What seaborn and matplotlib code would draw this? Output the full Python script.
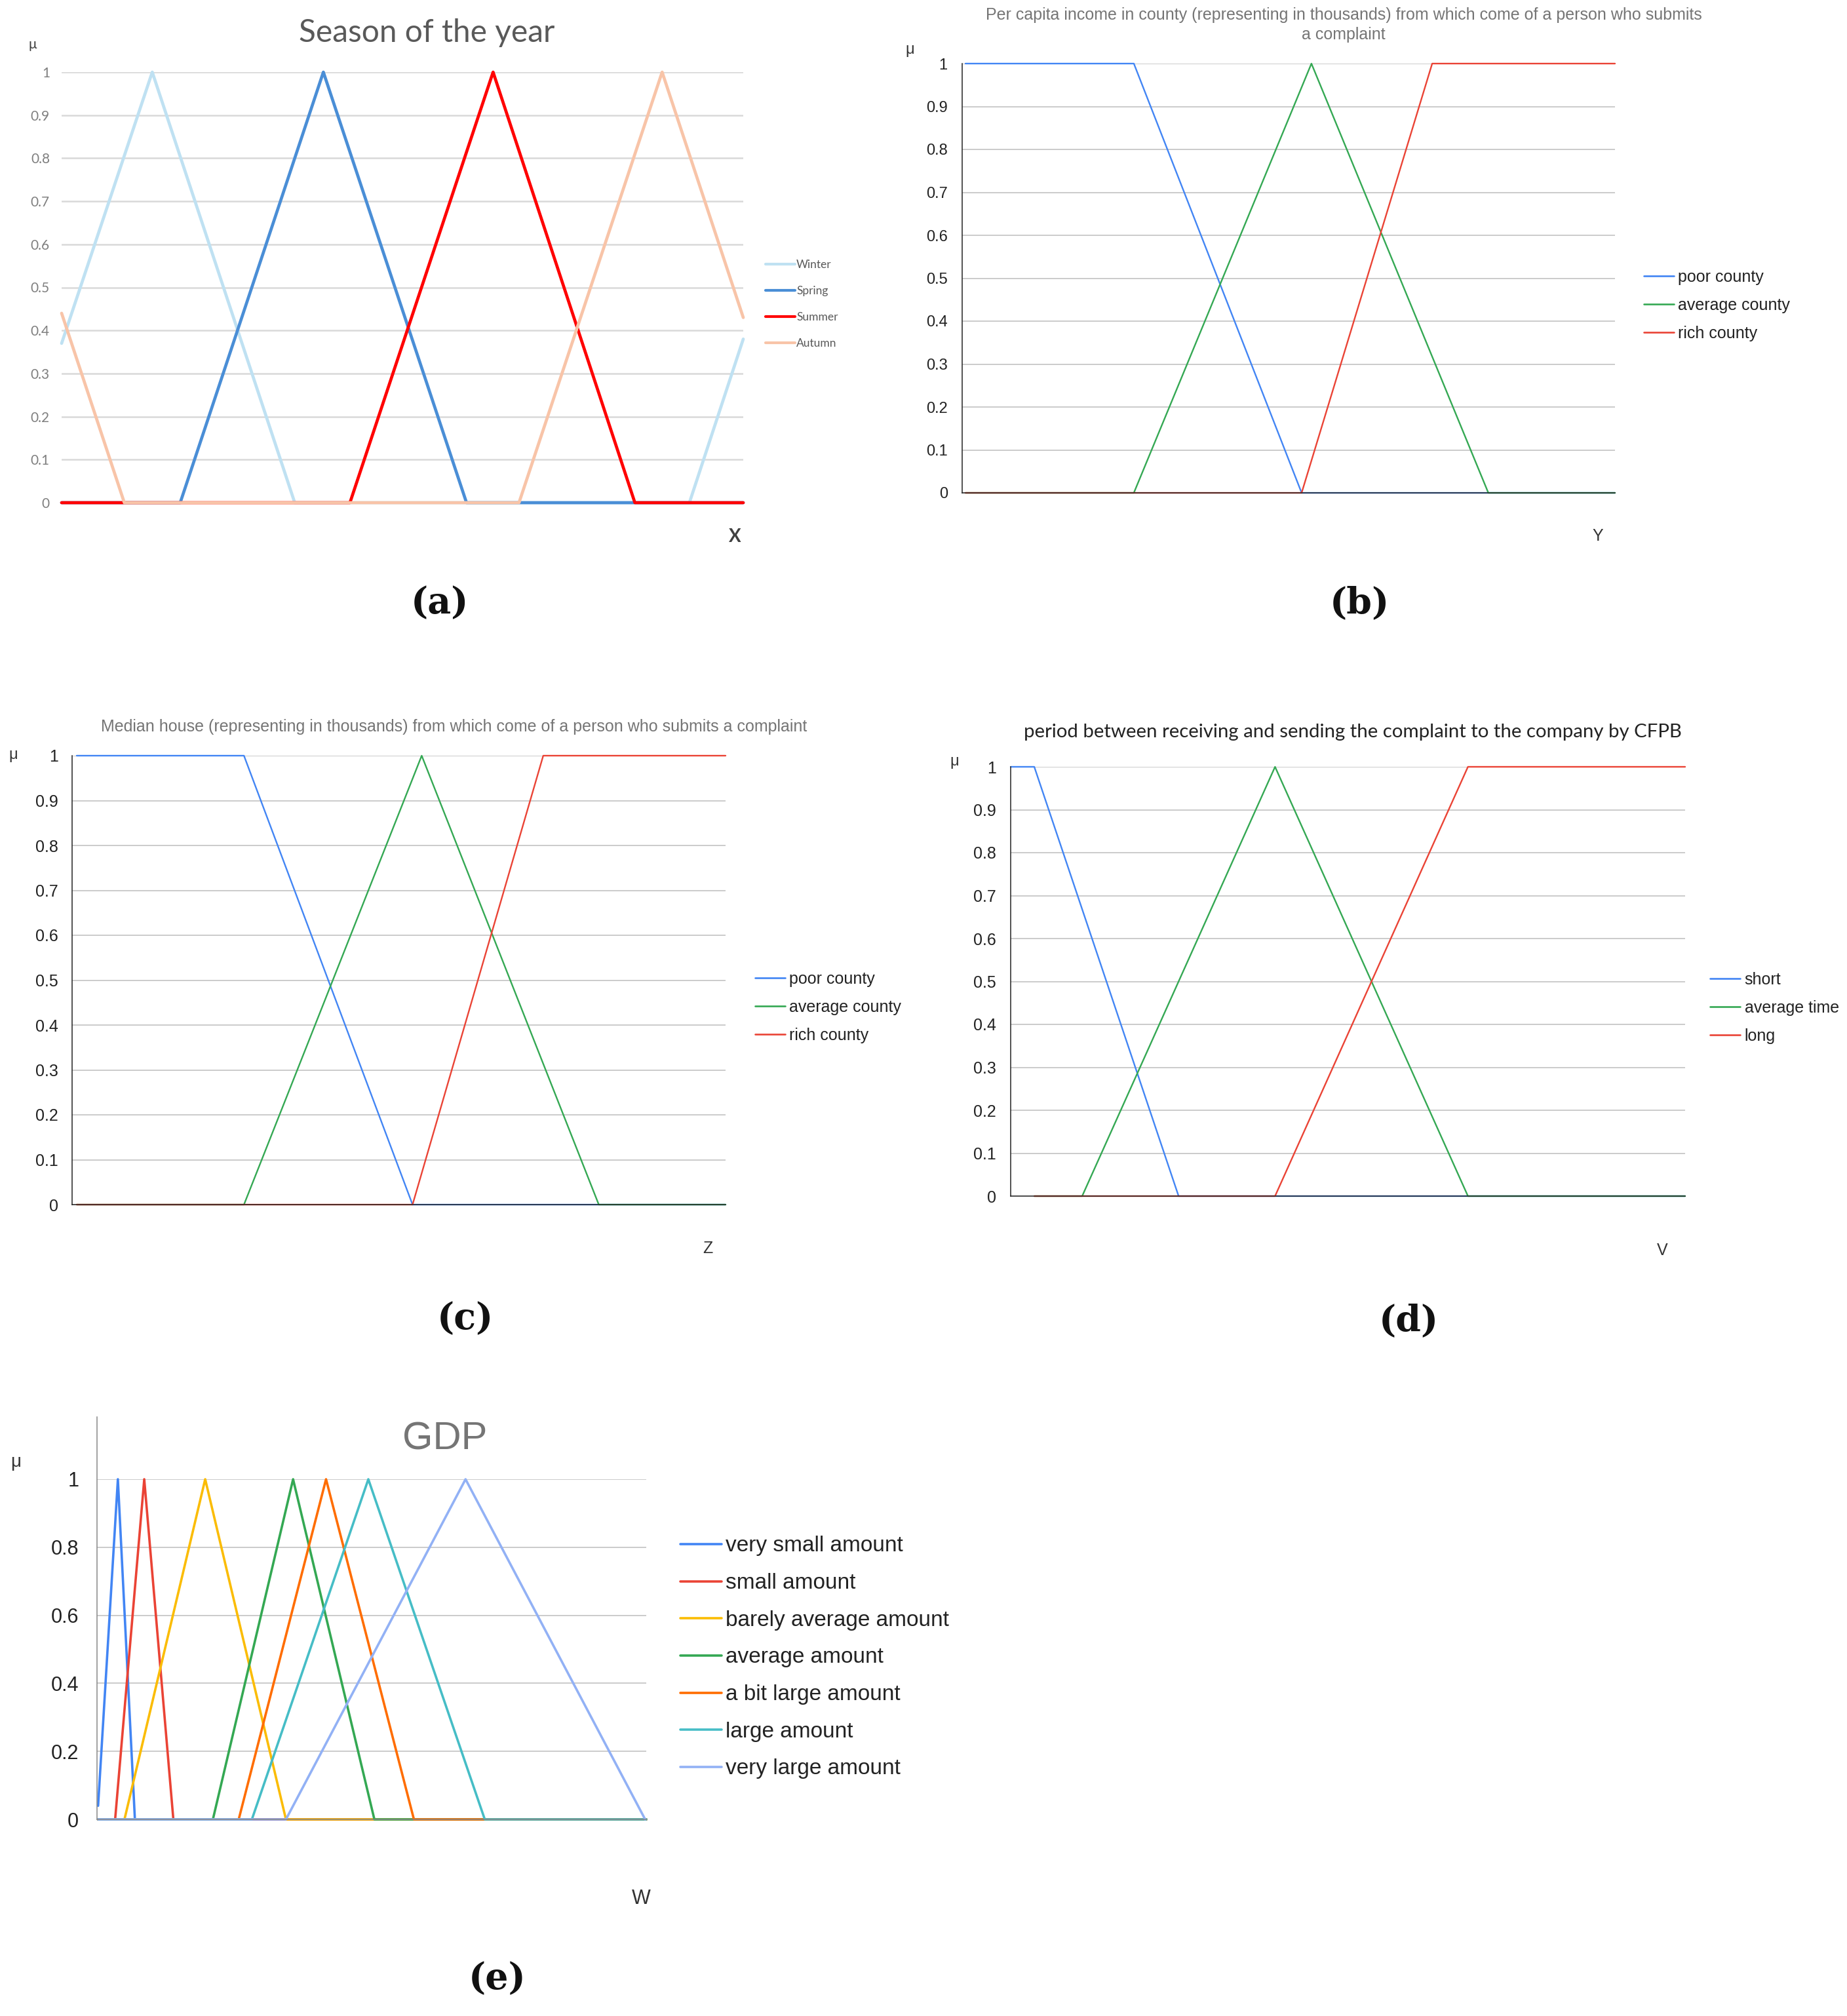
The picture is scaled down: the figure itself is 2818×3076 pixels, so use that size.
import pandas as pd
import seaborn as sns
import matplotlib.pyplot as plt
from matplotlib.lines import Line2D
from matplotlib.ticker import FuncFormatter

W_PX, H_PX = 2818, 3076

# (a) season of the year
season_terms = ['Winter', 'Spring', 'Summer', 'Autumn']
season_colors = ['#bfe1f2', '#4a8ed6', '#ff0000', '#f8c4a8']
winter_x = [0, 13.3, 34.2, 92.1, 100]
winter_mu = [0.37, 1, 0, 0, 0.38]
spring_x = [0, 17.4, 38.4, 59.4, 100]
spring_mu = [0, 0, 1, 0, 0]
summer_x = [0, 42.3, 63.3, 84.1, 100]
summer_mu = [0, 0, 1, 0, 0]
autumn_x = [0, 9.2, 67.1, 88.1, 100]
autumn_mu = [0.44, 0, 0, 1, 0.43]

# (b) per capita income
income_terms = ['poor county', 'average county', 'rich county']
income_poor_x = [0.5, 26.3, 52.0, 100]
income_poor_mu = [1, 1, 0, 0]
income_avg_x = [0.5, 26.3, 53.5, 80.6, 100]
income_avg_mu = [0, 0, 1, 0, 0]
income_rich_x = [0.5, 52.0, 72.0, 100]
income_rich_mu = [0, 0, 1, 1]

# (c) median house
house_terms = ['poor county', 'average county', 'rich county']
house_poor_x = [0.7, 26.3, 52.1, 100]
house_poor_mu = [1, 1, 0, 0]
house_avg_x = [0.7, 26.3, 53.5, 80.6, 100]
house_avg_mu = [0, 0, 1, 0, 0]
house_rich_x = [0.7, 52.1, 72.1, 100]
house_rich_mu = [0, 0, 1, 1]

# (d) period receiving -> sending
period_terms = ['short', 'average time', 'long']
period_short_x = [0, 3.5, 24.9, 100]
period_short_mu = [1, 1, 0, 0]
period_avg_x = [3.5, 10.6, 39.2, 67.8, 100]
period_avg_mu = [0, 0, 1, 0, 0]
period_long_x = [3.5, 39.2, 67.8, 100]
period_long_mu = [0, 0, 1, 1]

# (e) GDP
gdp_terms = ['very small amount', 'small amount', 'barely average amount',
             'average amount', 'a bit large amount', 'large amount',
             'very large amount']
gdp_colors = ['#4285f4', '#ea4335', '#fbbc04', '#34a853', '#ff6d01',
              '#46bdc6', '#92b1f5']
gdp_vsmall_x = [0.2, 3.8, 6.9, 100]
gdp_vsmall_mu = [0.04, 1, 0, 0]
gdp_small_x = [0.2, 3.3, 8.6, 13.9, 100]
gdp_small_mu = [0, 0, 1, 0, 0]
gdp_barely_x = [0.2, 5.0, 19.7, 34.4, 100]
gdp_barely_mu = [0, 0, 1, 0, 0]
gdp_avg_x = [0.2, 21.1, 35.7, 50.5, 100]
gdp_avg_mu = [0, 0, 1, 0, 0]
gdp_bitlarge_x = [0.2, 25.8, 41.7, 57.7, 100]
gdp_bitlarge_mu = [0, 0, 1, 0, 0]
gdp_large_x = [0.2, 28.2, 49.4, 70.6, 100]
gdp_large_mu = [0, 0, 1, 0, 0]
gdp_vlarge_x = [0.2, 34.4, 67.1, 99.8]
gdp_vlarge_mu = [0, 0, 1, 0]

g_colors = ['#4285f4', '#34a853', '#ea4335']


def frame(terms, xs, mus):
    parts = [pd.DataFrame({'x': x, 'mu': m, 'term': t}) for t, x, m in zip(terms, xs, mus)]
    return pd.concat(parts, ignore_index=True)


def px(x, y):
    return x / W_PX, 1 - y / H_PX


sns.set_theme(style='white')
plt.rcParams['font.family'] = ['Liberation Sans', 'DejaVu Sans']

fig = plt.figure(figsize=(W_PX / 100, H_PX / 100), dpi=100)


def make_axes(l, t, r, b):
    return fig.add_axes([l / W_PX, 1 - b / H_PX, (r - l) / W_PX, (b - t) / H_PX])


def draw(ax, df, terms, colors, lw, ylim, yticks, tick_size, tick_color, pad,
         grid_color, grid_lw, spine_color, family):
    sns.lineplot(data=df, x='x', y='mu', hue='term', hue_order=terms,
                 palette=colors, estimator=None, legend=False, ax=ax,
                 linewidth=lw)
    for ln in ax.lines:
        ln.set_clip_on(False)
    ax.set_xlim(0, 100)
    ax.set_ylim(*ylim)
    ax.set_yticks(yticks)
    ax.yaxis.set_major_formatter(FuncFormatter(lambda v, p: '%g' % round(v, 2)))
    ax.set_xticks([])
    ax.set_xlabel('')
    ax.set_ylabel('')
    ax.tick_params(axis='y', length=0, pad=pad, labelsize=tick_size,
                   labelcolor=tick_color)
    for lab in ax.get_yticklabels():
        lab.set_family(family)
    ax.yaxis.grid(True, color=grid_color, linewidth=grid_lw)
    ax.set_axisbelow(True)
    for s in ['top', 'right']:
        ax.spines[s].set_visible(False)
    if spine_color is None:
        ax.spines['left'].set_visible(False)
        ax.spines['bottom'].set_visible(False)
    else:
        ax.spines['left'].set_color(spine_color)
        ax.spines['bottom'].set_color(spine_color)
        ax.spines['left'].set_linewidth(1.1)
        ax.spines['bottom'].set_linewidth(1.1)


def legend(ax, terms, colors, lw, x, y, size, hl, tp, ls, color, family):
    handles = [Line2D([], [], color=c, linewidth=lw) for c in colors]
    leg = ax.legend(handles, terms, loc='center left', bbox_to_anchor=px(x, y),
                    bbox_transform=fig.transFigure, frameon=False,
                    prop={'family': family, 'size': size},
                    handlelength=hl, handletextpad=tp, labelspacing=ls,
                    borderpad=0, borderaxespad=0, labelcolor=color)
    return leg


def label(x, y, s, size, color='#222222', family='Liberation Sans', **kw):
    fig.text(*px(x, y), s, fontsize=size, color=color, family=family,
             ha=kw.pop('ha', 'center'), va=kw.pop('va', 'center'), **kw)


tenths = [i / 10 for i in range(11)]
fifths = [i / 5 for i in range(6)]

# ---- (a)
ax_a = make_axes(94, 110, 1134, 767)
df_a = frame(season_terms, [winter_x, spring_x, summer_x, autumn_x],
             [winter_mu, spring_mu, summer_mu, autumn_mu])
draw(ax_a, df_a, season_terms, season_colors, 3.4, (0, 1), tenths, 15,
     '#7f7f7f', 13, '#d9d9d9', 1.8, None, 'Lato')
legend(ax_a, season_terms, season_colors, 3.0, 1168, 464, 12.5, 2.6, 0.12, 1.38,
       '#595959', 'Lato')
label(651, 50, 'Season of the year', 34.5, '#595959', 'Lato')
label(50, 68, 'μ', 15, '#404040', 'Lato')
label(1121, 819, 'X', 20, '#404040', 'Lato', weight='bold')
label(671, 921, '(a)', 40, '#111111', 'DejaVu Serif', weight='bold')

# ---- (b)
ax_b = make_axes(1468, 97, 2464, 752)
df_b = frame(income_terms, [income_poor_x, income_avg_x, income_rich_x],
             [income_poor_mu, income_avg_mu, income_rich_mu])
draw(ax_b, df_b, income_terms, g_colors, 1.7, (0, 1), tenths, 17,
     '#222222', 16, '#bdbdbd', 1.1, '#222222', 'Liberation Sans')
legend(ax_b, income_terms, g_colors, 1.9, 2508, 466, 18, 1.85, 0.25, 0.76,
       '#222222', 'Liberation Sans')
label(2050, 23, 'Per capita income in county (representing in thousands) '
      'from which come of a person who submits', 18, '#757575')
label(2050, 53, 'a complaint', 18, '#757575')
label(1388, 76, 'μ', 17, '#333333')
label(2438, 818, 'Y', 18, '#333333')
label(2074, 921, '(b)', 40, '#111111', 'DejaVu Serif', weight='bold')

# ---- (c)
ax_c = make_axes(110, 1153, 1107, 1838)
df_c = frame(house_terms, [house_poor_x, house_avg_x, house_rich_x],
             [house_poor_mu, house_avg_mu, house_rich_mu])
draw(ax_c, df_c, house_terms, g_colors, 1.7, (0, 1), tenths, 18,
     '#222222', 15, '#bdbdbd', 1.1, '#222222', 'Liberation Sans')
legend(ax_c, house_terms, g_colors, 1.9, 1152, 1537, 18, 1.85, 0.25, 0.76,
       '#222222', 'Liberation Sans')
label(693, 1109, 'Median house (representing in thousands) from which come '
      'of a person who submits a complaint', 18, '#757575')
label(20, 1152, 'μ', 17, '#333333')
label(1080, 1905, 'Z', 18, '#333333')
label(710, 2013, '(c)', 40, '#111111', 'DejaVu Serif', weight='bold')

# ---- (d)
ax_d = make_axes(1542, 1170, 2571, 1825)
df_d = frame(period_terms, [period_short_x, period_avg_x, period_long_x],
             [period_short_mu, period_avg_mu, period_long_mu])
draw(ax_d, df_d, period_terms, g_colors, 1.7, (0, 1), tenths, 18,
     '#222222', 16, '#bdbdbd', 1.1, '#222222', 'Liberation Sans')
legend(ax_d, period_terms, g_colors, 1.9, 2609, 1538, 18, 1.85, 0.25, 0.76,
       '#222222', 'Liberation Sans')
label(2064, 1117, 'period between receiving and sending the complaint to '
      'the company by CFPB', 21.2, '#222222', 'Lato')
label(1456, 1162, 'μ', 17, '#333333')
label(2536, 1908, 'V', 18, '#333333')
label(2149, 2016, '(d)', 40, '#111111', 'DejaVu Serif', weight='bold')

# ---- (e)
ax_e = make_axes(148, 2257, 986, 2776)
df_e = frame(gdp_terms,
             [gdp_vsmall_x, gdp_small_x, gdp_barely_x, gdp_avg_x,
              gdp_bitlarge_x, gdp_large_x, gdp_vlarge_x],
             [gdp_vsmall_mu, gdp_small_mu, gdp_barely_mu, gdp_avg_mu,
              gdp_bitlarge_mu, gdp_large_mu, gdp_vlarge_mu])
draw(ax_e, df_e, gdp_terms, gdp_colors, 2.6, (0, 1), fifths, 22,
     '#222222', 20, '#bdbdbd', 1.1, '#888888', 'Liberation Sans')
ax_e.spines['left'].set_bounds(0, 1.183)
ax_e.spines['left'].set_position(('data', 0))
legend(ax_e, gdp_terms, gdp_colors, 2.6, 1038, 2529, 24, 1.9, 0.18, 0.77,
       '#222222', 'Liberation Sans')
label(679, 2196, 'GDP', 43, '#757575')
label(24, 2231, 'μ', 20, '#333333')
label(978, 2897, 'W', 22, '#333333')
label(759, 3020, '(e)', 40, '#111111', 'DejaVu Serif', weight='bold')

fig.savefig('out.png', dpi=100)
